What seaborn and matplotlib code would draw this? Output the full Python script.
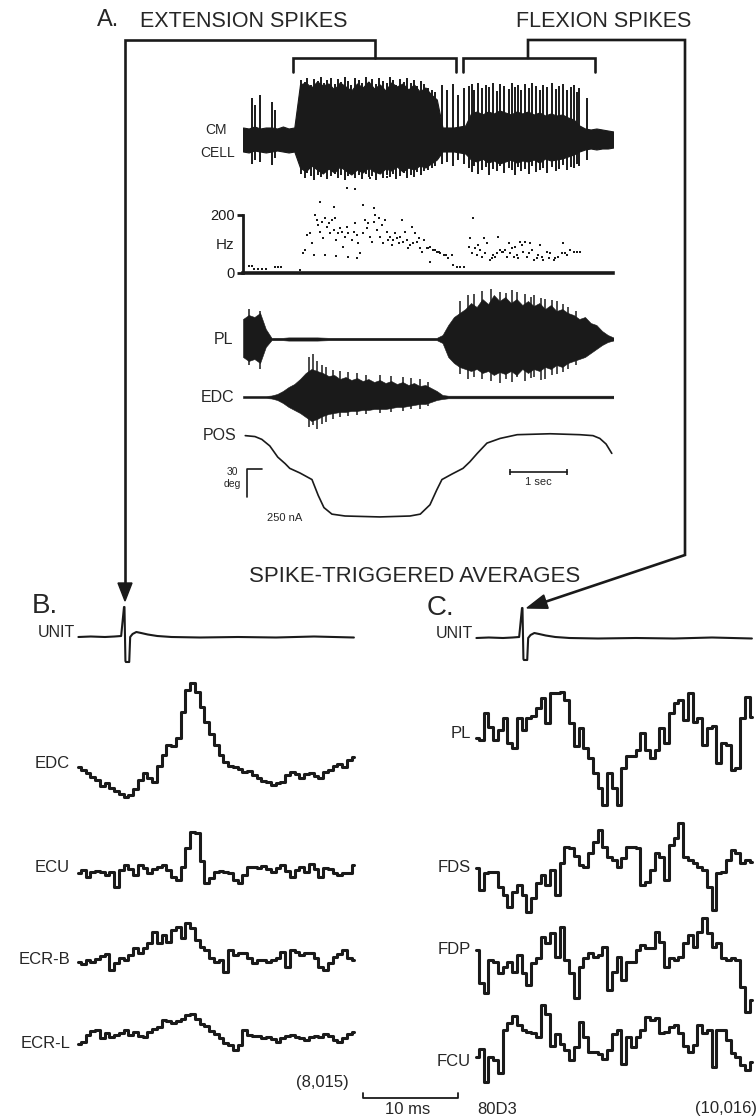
import numpy as np
import matplotlib
matplotlib.use('Agg')
import matplotlib.pyplot as plt
import seaborn as sns
from matplotlib.patches import Polygon

sns.set_theme(style='white')
plt.rcParams['font.family'] = ['Liberation Sans', 'DejaVu Sans']

# ---------------- data: panel A (time in s) ----------------
emg_t = np.round(np.arange(0, 6.5 + 1e-9, 0.1), 2)

cm_upper = [12, 11, 13, 11, 12, 12, 11, 13, 11, 12,
            55, 57, 52, 58, 54, 56, 50, 57, 53, 49,
            56, 52, 58, 51, 55, 49, 57, 53, 56, 50,
            55, 48, 52, 45, 40, 12, 12, 12, 13, 14,
            26, 28, 25, 28, 26, 29, 27, 25, 28, 26,
            28, 25, 27, 24, 26, 24, 25, 22, 20, 14,
            11, 10, 11, 10, 9, 8]
cm_lower = [-12, -13, -11, -12, -13, -12, -11, -12, -13, -12,
            -28, -32, -26, -30, -34, -29, -33, -27, -31, -35,
            -30, -33, -28, -32, -34, -29, -31, -27, -32, -28,
            -30, -26, -28, -24, -20, -12, -12, -12, -13, -14,
            -20, -22, -19, -23, -21, -24, -22, -20, -23, -21,
            -22, -20, -23, -19, -21, -20, -19, -17, -15, -12,
            -10, -9, -10, -9, -9, -8]
cm_spike_t = [0.15, 0.21, 0.30, 0.50, 0.56,
              3.49, 3.58, 3.69, 3.78, 3.87,
              3.96, 4.01, 4.05, 4.13, 4.19, 4.27, 4.32, 4.39, 4.45, 4.50,
              4.58, 4.66, 4.72, 4.77, 4.83, 4.87, 4.95, 5.01, 5.07, 5.14,
              5.21, 5.27, 5.34, 5.42, 5.49, 5.55, 5.62, 5.68, 5.75, 5.80,
              5.86, 5.90, 6.03,
              1.02, 1.08, 1.13, 1.19, 1.25, 1.31, 1.37, 1.42, 1.48, 1.55,
              1.61, 1.66, 1.72, 1.79, 1.85, 1.90, 1.96, 2.03, 2.09, 2.15,
              2.21, 2.27, 2.33, 2.39, 2.45, 2.52, 2.58, 2.63, 2.69, 2.76,
              2.82, 2.88, 2.94, 3.00, 3.06, 3.12, 3.18, 3.25, 3.31, 3.37]
cm_spike_top = [42, 35, 45, 38, 30,
                55, 50, 56, 45, 52,
                54, 56, 50, 57, 52, 55, 53, 57, 49, 56,
                54, 51, 57, 53, 55, 50, 56, 52, 57, 54,
                50, 55, 53, 57, 51, 54, 56, 50, 53, 55,
                48, 52, 42,
                60, 58, 62, 55, 61, 59, 63, 57, 60, 62,
                56, 61, 58, 63, 59, 55, 62, 60, 57, 63,
                58, 61, 56, 62, 59, 57, 63, 60, 55, 61,
                58, 62, 57, 60, 54, 59, 56, 52, 50, 48]
cm_spike_bot = [-24, -20, -22, -25, -18,
                -24, -22, -26, -20, -24,
                -28, -32, -26, -34, -30, -27, -35, -29, -31, -26,
                -33, -28, -30, -35, -27, -31, -29, -34, -26, -32,
                -30, -28, -33, -27, -31, -29, -25, -30, -27, -28,
                -24, -26, -20,
                -34, -38, -33, -36, -40, -35, -37, -33, -39, -36,
                -34, -38, -35, -40, -36, -33, -38, -35, -39, -34,
                -37, -36, -40, -33, -38, -35, -37, -34, -39, -36,
                -33, -38, -35, -37, -32, -35, -31, -30, -28, -26]

hz_t = [0.10, 0.15, 0.20, 0.27, 0.33, 0.40, 0.57, 0.62, 0.67,
        1.00, 1.06, 1.09, 1.12, 1.18, 1.21, 1.26, 1.29, 1.32, 1.35, 1.38,
        1.41, 1.44, 1.47, 1.50, 1.53, 1.56, 1.59, 1.62, 1.64, 1.67,
        1.70, 1.73, 1.76, 1.79, 1.82, 1.85, 1.91, 1.94, 1.97, 2.00,
        2.02, 2.05, 2.11, 2.14, 2.17, 2.20, 2.23, 2.26, 2.29, 2.32,
        2.35, 2.38, 2.41, 2.43, 2.46, 2.49, 2.52, 2.55, 2.58, 2.61,
        2.64, 2.67, 2.70, 2.73, 2.76, 2.79, 2.81, 2.84, 2.87, 2.90,
        2.93, 2.96, 2.99, 3.02, 3.05, 3.08, 3.11, 3.14, 3.17, 3.22,
        3.25, 3.28, 3.34, 3.37, 3.40, 3.43, 3.46, 3.52, 3.57, 3.60,
        3.66, 3.69, 3.75, 3.81, 3.87,
        1.24, 1.44, 1.64, 1.85, 2.00, 3.28,
        1.35, 1.59, 2.11, 2.29, 2.23, 2.53, 1.82, 1.96,
        3.96, 3.98, 4.01, 4.04, 4.07, 4.10, 4.13, 4.16, 4.19, 4.22,
        4.25, 4.28, 4.34, 4.37, 4.39, 4.42, 4.45, 4.48, 4.51, 4.54,
        4.57, 4.60, 4.63, 4.66, 4.69, 4.72, 4.75, 4.77, 4.80, 4.83,
        4.86, 4.89, 4.92, 4.95, 4.98, 5.01, 5.04, 5.07, 5.10, 5.15,
        5.18, 5.21, 5.24, 5.27, 5.33, 5.36, 5.39, 5.45, 5.48, 5.53,
        5.59, 5.62, 5.65, 5.68, 5.74, 5.80, 5.86, 5.92]
hz_v = [24, 24, 14, 14, 14, 14, 22, 22, 22,
        10, 68, 79, 131, 137, 102, 200, 183, 165, 142, 177,
        119, 188, 160, 171, 137, 183, 148, 188, 114, 137,
        154, 142, 91, 125, 160, 137, 114, 142, 171, 131,
        102, 68, 137, 183, 154, 171, 125, 108, 177, 200,
        148, 188, 125, 165, 102, 183, 142, 114, 125, 97,
        114, 137, 119, 102, 125, 183, 108, 142, 114, 85,
        97, 160, 102, 137, 108, 119, 85, 74, 114, 85,
        85, 91, 79, 79, 74, 74, 68, 62, 62, 51,
        62, 28, 22, 22, 22,
        62, 62, 59, 56, 51, 39,
        246, 229, 234, 223, 328, 331, 293, 290,
        91, 119, 68, 188, 85, 62, 97, 79, 56, 119,
        68, 102, 45, 51, 62, 56, 68, 125, 79, 74,
        74, 79, 56, 102, 68, 85, 56, 91, 62, 51,
        108, 97, 74, 108, 56, 68, 102, 79, 45, 51,
        62, 97, 56, 45, 74, 51, 68, 45, 51, 56,
        68, 102, 68, 62, 79, 74, 74, 74]

pl_upper = [20, 24, 22, 26, 10, 1.2, 1.2, 1.2, 1.6, 1.6,
            1.6, 1.6, 1.6, 1.6, 1.4, 1.2, 1.2, 1.2, 1.2, 1.2,
            1.2, 1.2, 1.2, 1.2, 1.2, 1.2, 1.2, 1.2, 1.2, 1.2,
            1.2, 1.2, 1.2, 1.2, 1.2, 4, 14, 22, 26, 30,
            36, 32, 40, 35, 44, 38, 42, 36, 40, 34,
            38, 33, 36, 30, 34, 28, 30, 26, 24, 20,
            22, 16, 14, 8, 4, 1.5]
pl_lower = [-18, -22, -20, -24, -8, -1.2, -1.2, -1.2, -1.6, -1.6,
            -1.6, -1.6, -1.6, -1.6, -1.4, -1.2, -1.2, -1.2, -1.2, -1.2,
            -1.2, -1.2, -1.2, -1.2, -1.2, -1.2, -1.2, -1.2, -1.2, -1.2,
            -1.2, -1.2, -1.2, -1.2, -1.2, -4, -18, -24, -28, -30,
            -32, -30, -34, -32, -36, -33, -35, -32, -36, -30,
            -34, -30, -32, -28, -30, -26, -28, -24, -22, -20,
            -18, -14, -10, -6, -3, -1.5]
pl_spike_t = [0.10, 0.30, 3.80, 3.95, 4.05, 4.20, 4.35, 4.50, 4.62, 4.72, 4.80, 4.95,
              5.05, 5.10, 5.22, 5.30, 5.42, 5.50, 5.62, 5.70, 5.85]
pl_spike_top = [30, 28, 38, 44, 45, 48, 50, 47, 46, 49, 47, 45, 42, 44, 41, 40, 39, 38, 35, 32, 28]
pl_spike_bot = [-26, -30, -35, -40, -38, -40, -42, -44, -40, -43, -38, -42, -39, -38, -41, -40,
                -36, -35, -33, -30, -26]

edc_upper = [1, 1, 1, 1, 1, 1.5, 3, 6, 10, 13,
             18, 24, 28, 26, 24, 21, 22, 18, 20, 17,
             19, 16, 18, 15, 17, 14, 16, 13, 15, 12,
             14, 11, 12, 9, 6, 2, 1.3, 1.3, 1.3, 1.3,
             1.3, 1.3, 1.3, 1.3, 1.3, 1.3, 1.3, 1.3, 1.3, 1.3,
             1.3, 1.3, 1.3, 1.3, 1.3, 1.3, 1.3, 1.3, 1.3, 1.3,
             1.3, 1.3, 1.3, 1.3, 1.3, 1.3]
edc_lower = [-1, -1, -1, -1, -1, -1.5, -3, -6, -10, -13,
             -16, -20, -24, -22, -19, -17, -16, -15, -15, -14,
             -14, -13, -13, -12, -12, -12, -11, -10, -10, -9,
             -8, -7, -7, -5, -3, -2, -1.3, -1.3, -1.3, -1.3,
             -1.3, -1.3, -1.3, -1.3, -1.3, -1.3, -1.3, -1.3, -1.3, -1.3,
             -1.3, -1.3, -1.3, -1.3, -1.3, -1.3, -1.3, -1.3, -1.3, -1.3,
             -1.3, -1.3, -1.3, -1.3, -1.3, -1.3]
edc_spike_t = [1.15, 1.22, 1.30, 1.38, 1.45, 1.58, 1.70, 1.85, 2.00, 2.15, 2.40, 2.60,
               2.80, 2.95, 3.10, 3.25]
edc_spike_top = [40, 43, 36, 32, 30, 27, 26, 25, 24, 22, 22, 21, 20, 19, 18, 15]
edc_spike_bot = [-30, -28, -32, -27, -25, -22, -20, -19, -18, -17, -16, -15, -14, -12, -12, -9]

pos_t = [0.04, 0.21, 0.33, 0.47, 0.61, 0.74, 0.82, 1.00, 1.12, 1.21, 1.32, 1.42,
         1.56, 1.79, 2.40, 2.93, 3.11, 3.28, 3.40, 3.49, 3.67, 3.86, 3.98, 4.11,
         4.28, 4.51, 4.81, 5.39, 5.91, 6.14, 6.26, 6.37, 6.47]
pos_deg = [86, 85, 82, 75, 63, 56, 51, 46, 42, 39, 22, 9,
           2, 0, -1, 0, 2, 12, 28, 39, 45, 51, 58, 67,
           78, 83, 87, 88, 87, 86, 83, 77, 67]

# ---------------- data: spike-triggered averages (ms grid, 0.5 ms) ----------------
sta_t0, sta_dt = -4.8, 0.5

unit_t = [-4.8, -3.5, -2.0, -1.0, -0.3, 0.0, 0.05, 0.15, 0.2, 0.55, 0.65, 0.9, 1.3,
          1.8, 2.5, 3.5, 5.0, 8.0, 12.0, 16.0, 20.0, 24.2]
unit_b = [0, 0.5, 0, 0.5, 1, 30, 30, -24, -25, -25, 0, 3, 5, 4, 2.5, 1, 0, -0.5, 0, -0.5, 0.5, -0.5]
unit_c = [0, 0.5, 0, 0.5, 1, 30, 30, -21, -22, -22, 0, 3, 5, 4, 2.5, 1, 0, -0.5, 0, -0.5, 0.5, -0.5]

edc_sta = [-2, -5, -8, -12, -15, -21, -18, -23, -26, -29,
           -32, -30, -24, -15, -8, -13, -17, -1, 10, 20,
           19, 27, 53, 75, 82, 73, 58, 43, 31, 20,
           10, 3, -1, -2, -4, -7, -6, -10, -13, -16,
           -17, -20, -18, -17, -10, -7, -9, -13, -9, -8,
           -11, -13, -7, -5, -1, 1, -2, 5, 8]
ecu_sta = [0, 3, -4, 1, 2, 1, -2, 1, -14, 3,
           8, 4, -2, 8, 5, 0, 4, 6, 8, 3,
           -4, -7, 6, 25, 41, 40, 12, -10, -5, 1,
           2, 1, 0, -7, -10, -2, 6, 6, 5, 7,
           4, 1, 5, 8, 2, -4, 3, 6, 1, 9,
           4, -4, 5, 4, 0, -2, 0, 0, 8]
ecrb_sta = [0, -2, 2, 0, 3, 6, 8, -8, -1, 4,
            2, 7, 14, 9, 14, 19, 30, 19, 27, 20,
            32, 35, 24, 39, 34, 22, 15, 12, 4, 0,
            2, -10, 12, 7, 9, 9, 4, -1, 2, 2,
            0, 2, 4, 10, -5, 12, 10, 7, 9, 9,
            4, -5, -8, -1, 5, 8, 12, 4, 2]
ecrl_sta = [-1, 1, 8, 12, 13, 5, 10, 6, 8, 10,
            13, 8, 11, 7, 6, 11, 14, 16, 23, 22,
            20, 22, 24, 28, 29, 24, 19, 17, 12, 9,
            5, 0, -2, -7, -2, 13, 8, 7, 7, 5,
            6, 4, 1, 5, 7, 8, 6, 5, 3, 6,
            7, 6, 9, 7, 3, 1, 5, 9, 11]
pl_sta = [0, -2, 25, 11, -2, 8, 20, -5, -10, 20,
          8, 20, 22, 30, 40, 15, 45, 45, 46, 38,
          15, -8, 10, -10, -20, -35, -50, -67, -35, -50,
          -67, -30, -18, -18, -12, 5, -12, -20, -12, 10,
          -5, 25, 35, 38, 18, 45, 16, 20, -7, 10,
          12, -25, -5, -7, -32, -30, 20, 41, 21]
fds_sta = [-1, -23, -6, -5, -5, -20, -28, -40, -25, -18,
           -28, -45, -31, -16, -8, -18, -3, -28, 4, 20,
           19, 11, 2, 0, 14, 25, 37, 20, 10, 7,
           0, 9, 20, 20, 19, -18, -15, -3, 14, 10,
           -13, 22, 29, 44, 10, 7, 4, 0, -3, -20,
           -43, -6, -5, 7, 17, 14, 4, 7, 5]
fdp_sta = [0, -33, -43, -10, -12, -23, -17, -12, -22, -5,
           -23, -35, -13, -8, 13, 7, 17, -7, 23, -10,
           -23, -48, -17, -8, -3, -7, -5, 3, -40, -22,
           -7, -30, -12, -12, 0, 5, 2, 2, 18, 8,
           -17, -8, -10, -7, 7, 15, 3, 18, 32, 17,
           3, 7, -8, -10, -8, -10, -37, -62, -50]
fcu_sta = [5, 13, -20, 5, 2, -11, 32, 39, 46, 37,
           32, 30, 29, 25, 57, 48, 16, 28, 18, 12,
           2, 15, 40, 25, 10, 10, 8, 3, 12, 28,
           32, -2, 25, 15, 25, 32, 45, 42, 44, 29,
           30, 35, 37, 29, 16, 10, 17, 37, 29, 32,
           -5, 32, 32, 22, 9, 5, -3, -8, 0]

# ---------------- figure ----------------
W, H = 756, 1117
fig = plt.figure(figsize=(W / 100, H / 100), dpi=100)
fig.patch.set_facecolor('white')


def px_axes(x0, y0, x1, y1):
    ax = fig.add_axes([x0 / W, 1 - y1 / H, (x1 - x0) / W, (y1 - y0) / H])
    ax.set_facecolor('none')
    for s in ax.spines.values():
        s.set_visible(False)
    ax.set_xticks([])
    ax.set_yticks([])
    ax.set_xlabel('')
    ax.set_ylabel('')
    return ax


# overlay for annotations (pixel coordinates)
ov = fig.add_axes([0, 0, 1, 1])
ov.set_xlim(0, W)
ov.set_ylim(H, 0)
ov.axis('off')

TX0, TX1 = 243, 613
TLIM = (0, (TX1 - TX0) / 57.0)

# CM cell
ax = px_axes(TX0, 70, TX1, 180)
ax.set_xlim(*TLIM); ax.set_ylim(-40.5, 69.5)
ax.fill_between(emg_t, cm_lower, cm_upper, color='k', lw=0.8)
ax.vlines(cm_spike_t, cm_spike_bot, cm_spike_top, color='k', lw=1.4)

# Hz
ax = px_axes(TX0, 170, TX1, 273)
ax.set_xlim(*TLIM); ax.set_ylim(0, 355)
sns.scatterplot(x=hz_t, y=hz_v, ax=ax, marker='s', s=2.5, color='k', linewidth=0)
ax.spines['left'].set_visible(True)
ax.spines['left'].set_bounds(0, 200)
ax.spines['left'].set_linewidth(2)
ax.spines['left'].set_color('k')
ax.spines['bottom'].set_visible(True)
ax.spines['bottom'].set_linewidth(2.6)
ax.spines['bottom'].set_color('k')
ax.set_yticks([0, 200])
ax.set_yticklabels(['0', '200'], fontsize=10.5)
ax.tick_params(axis='y', direction='out', length=4, width=2, pad=2, left=True, colors='k')
ax.text(-0.15, 97, 'Hz', ha='right', va='center', fontsize=11)
ax.set_xlabel(''); ax.set_ylabel('')

# PL EMG
ax = px_axes(TX0, 280, TX1, 390)
ax.set_xlim(*TLIM); ax.set_ylim(-51, 59)
ax.fill_between(emg_t, pl_lower, pl_upper, color='k', lw=0.4)
ax.vlines(pl_spike_t, pl_spike_bot, pl_spike_top, color='k', lw=1.1)

# EDC EMG
ax = px_axes(TX0, 345, TX1, 430)
ax.set_xlim(*TLIM); ax.set_ylim(-33, 52)
ax.fill_between(emg_t, edc_lower, edc_upper, color='k', lw=0.4)
ax.vlines(edc_spike_t, edc_spike_bot, edc_spike_top, color='k', lw=1.1)

# POS
ax = px_axes(TX0, 425, TX1, 525)
ax.set_xlim(*TLIM); ax.set_ylim(-9.63, 97.37)
sns.lineplot(x=pos_t, y=pos_deg, ax=ax, color='k', linewidth=1.2, estimator=None, sort=False)
ax.plot([0.33, 0.07, 0.07], [50, 50, 20], color='k', lw=1.2, clip_on=False)
ax.plot([4.68, 5.68], [47, 47], color='k', lw=1.2, clip_on=False)
ax.vlines([4.68, 5.68], 44, 50, color='k', lw=1.2)
ax.set_xlabel(''); ax.set_ylabel('')

# ---------------- STA panels ----------------
MS = 9.5  # px per ms


def sta_axes(x_spike, x0, x1, y_ref):
    a = px_axes(x0, y_ref - 110, x1, y_ref + 110)
    a.set_xlim((x0 - x_spike) / MS, (x1 - x_spike) / MS)
    a.set_ylim(-110, 110)
    return a


def sta_trace(x_spike, x0, x1, y_ref, vals):
    a = sta_axes(x_spike, x0, x1, y_ref)
    t = sta_t0 + sta_dt * np.arange(len(vals))
    sns.lineplot(x=t, y=vals, ax=a, color='k', linewidth=2.2, estimator=None,
                 sort=False, drawstyle='steps-mid')
    a.set_xlabel(''); a.set_ylabel('')
    return a


BX, CX = 124, 522
a = sta_axes(BX, 55, 365, 637)
sns.lineplot(x=unit_t, y=unit_b, ax=a, color='k', linewidth=1.5, estimator=None, sort=False)
a.set_xlabel(''); a.set_ylabel('')
sta_trace(BX, 55, 365, 765, edc_sta)
sta_trace(BX, 55, 365, 873, ecu_sta)
sta_trace(BX, 55, 365, 962, ecrb_sta)
ab = sta_trace(BX, 55, 365, 1043, ecrl_sta)
# 10 ms scale bar
ab.plot([25.2, 25.2, 35.2, 35.2], [-50, -55, -55, -50], color='k', lw=1.3, clip_on=False)

a = sta_axes(CX, 460, 756, 638)
sns.lineplot(x=unit_t, y=unit_c, ax=a, color='k', linewidth=1.5, estimator=None, sort=False)
a.set_xlabel(''); a.set_ylabel('')
sta_trace(CX, 460, 756, 738, pl_sta)
sta_trace(CX, 460, 756, 867, fds_sta)
sta_trace(CX, 460, 756, 950, fdp_sta)
sta_trace(CX, 460, 756, 1062, fcu_sta)

# ---------------- annotations ----------------
LW = 1.9
ov.plot([125, 125, 375, 375], [592, 40, 40, 58], color='k', lw=LW, solid_joinstyle='miter')
ov.plot([293, 293, 456, 456], [72, 58, 58, 72], color='k', lw=LW, solid_joinstyle='miter')
ov.plot([463, 463, 595, 595], [72, 58, 58, 72], color='k', lw=LW, solid_joinstyle='miter')
ov.plot([528, 528, 685, 685, 540], [58, 40, 40, 555, 603.6], color='k', lw=LW, solid_joinstyle='miter')
ov.add_patch(Polygon([[125, 601], [118, 583], [132, 583]], closed=True, color='k'))
tip = np.array([527.0, 608.0])
u = np.array([-143.0, 48.0]); u /= np.linalg.norm(u)
n = np.array([-u[1], u[0]])
base = tip - 20 * u
ov.add_patch(Polygon([tip, base + 7 * n, base - 7 * n], closed=True, color='k'))

ov.text(97, 26, 'A.', fontsize=17, ha='left', va='baseline')
ov.text(140, 27, 'EXTENSION SPIKES', fontsize=15.5, ha='left', va='baseline')
ov.text(516, 27, 'FLEXION SPIKES', fontsize=15.5, ha='left', va='baseline')
ov.text(216, 130, 'CM', fontsize=10, ha='center', va='center')
ov.text(218, 153, 'CELL', fontsize=10, ha='center', va='center')
ov.text(233, 339, 'PL', fontsize=11.5, ha='right', va='center')
ov.text(234, 397, 'EDC', fontsize=11.5, ha='right', va='center')
ov.text(236, 436, 'POS', fontsize=11.5, ha='right', va='center')
ov.text(238, 472, '30', fontsize=7.5, ha='right', va='center')
ov.text(241, 484, 'deg', fontsize=7.5, ha='right', va='center')
ov.text(267, 518, '250 nA', fontsize=8, ha='left', va='center')
ov.text(538, 482, '1 sec', fontsize=8, ha='center', va='center')
ov.text(415, 576, 'SPIKE-TRIGGERED AVERAGES', fontsize=16, ha='center', va='center')
ov.text(32, 613, 'B.', fontsize=20, ha='left', va='baseline')
ov.text(427, 615, 'C.', fontsize=20, ha='left', va='baseline')
ov.text(75, 637, 'UNIT', fontsize=11.5, ha='right', va='baseline')
ov.text(473, 638, 'UNIT', fontsize=11.5, ha='right', va='baseline')
for lab, y in [('EDC', 763), ('ECU', 867), ('ECR-B', 960), ('ECR-L', 1043)]:
    ov.text(70, y, lab, fontsize=12, ha='right', va='center')
for lab, y in [('PL', 733), ('FDS', 867), ('FDP', 950), ('FCU', 1062)]:
    ov.text(471, y, lab, fontsize=12, ha='right', va='center')
ov.text(322, 1082, '(8,015)', fontsize=12, ha='center', va='center')
ov.text(408, 1109, '10 ms', fontsize=12, ha='center', va='center')
ov.text(477, 1109, '80D3', fontsize=12, ha='left', va='center')
ov.text(757, 1109, '(10,016)', fontsize=12, ha='right', va='center')

fig.savefig('out.png', dpi=100, facecolor='white')
